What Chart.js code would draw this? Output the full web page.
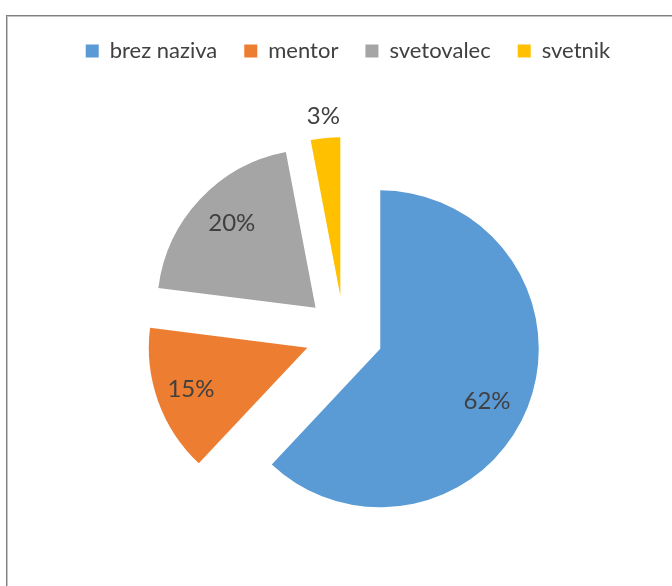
<!DOCTYPE html>
<html>
<head>
<meta charset="utf-8">
<script src="https://cdn.jsdelivr.net/npm/chart.js@4/dist/chart.umd.min.js"></script>
<style>
    html, body { margin: 0; padding: 0; background: #fff; overflow: hidden; }
    #frame {
        position: absolute; left: 6px; top: 15px; width: 700px; height: 620px;
        border-top: 1px solid #808080; border-left: 1px solid #808080;
        box-shadow: inset 1px 1px 0 #c4c4c4;
    }
    #chart { position: absolute; left: 0; top: 0; }
</style>
</head>
<body>
<div id="frame"></div>
<canvas id="chart" width="672" height="600"></canvas>
<script>
// Datos del gráfico
const categorias = ['brez naziva', 'mentor', 'svetovalec', 'svetnik'];
const porcentajes = [62, 15, 20, 3];
const colores = ['#5B9BD5', '#ED7D31', '#A5A5A5', '#FFC000'];

const RADIO = 158.5;     // radio de cada porción
const SEPARACION = 156;  // Chart.js desplaza offset/4 px

// Chart.js agranda y estrecha las porciones desplazadas; se corrige aquí
const radioFijo = {
    id: 'radioFijo',
    afterDatasetUpdate(chart, args) {
        args.meta.data.forEach(arc => {
            const fix = 1 - Math.sin(Math.min(Math.PI, arc.circumference || 0));
            const extra = (SEPARACION / 4) * fix;
            arc.outerRadius = RADIO - extra;
            const ang = extra / (2 * Math.PI * RADIO);
            arc.startAngle -= ang;
            arc.endAngle += ang;
        });
    }
};

// La leyenda va un poco más a la derecha que el centro del pastel
const moverLeyenda = {
    id: 'moverLeyenda',
    afterLayout(chart) {
        chart.legend.left += 4;
        chart.legend.right += 4;
    }
};

// Etiquetas de porcentaje (posición polar relativa al vértice de cada porción)
const etiquetas = {
    id: 'etiquetas',
    afterDatasetsDraw(chart) {
        const ctx = chart.ctx;
        const meta = chart.getDatasetMeta(0);
        const factor = [0.75, 0.78, 0.75, 1.14];
        const giro = [4.5, 0, 2, 0];
        ctx.save();
        ctx.font = '24px Lato';
        ctx.fillStyle = '#404040';
        ctx.textAlign = 'center';
        ctx.textBaseline = 'middle';
        meta.data.forEach((arc, i) => {
            const mid = (arc.startAngle + arc.endAngle) / 2;
            const vx = arc.x + Math.cos(mid) * SEPARACION / 4;
            const vy = arc.y + Math.sin(mid) * SEPARACION / 4;
            const a = mid + giro[i] * Math.PI / 180;
            const x = vx + Math.cos(a) * RADIO * factor[i];
            const y = vy + Math.sin(a) * RADIO * factor[i];
            ctx.fillText(porcentajes[i] + '%', x, y);
        });
        ctx.restore();
    }
};

const ctx = document.getElementById('chart').getContext('2d');
new Chart(ctx, {
    type: 'pie',
    data: {
        labels: categorias,
        datasets: [{
            data: porcentajes,
            backgroundColor: colores,
            borderWidth: 0,
            offset: SEPARACION,
            hoverOffset: 0
        }]
    },
    options: {
        responsive: false,
        animation: false,
        radius: RADIO,
        layout: { padding: { left: 16, right: 0, top: 13, bottom: 3 } },
        plugins: {
            legend: {
                position: 'top',
                labels: {
                    boxWidth: 13,
                    boxHeight: 13,
                    padding: 27,
                    color: '#404040',
                    font: { family: 'Lato', size: 22 }
                }
            },
            tooltip: { enabled: false }
        }
    },
    plugins: [radioFijo, moverLeyenda, etiquetas]
});
</script>
</body>
</html>
